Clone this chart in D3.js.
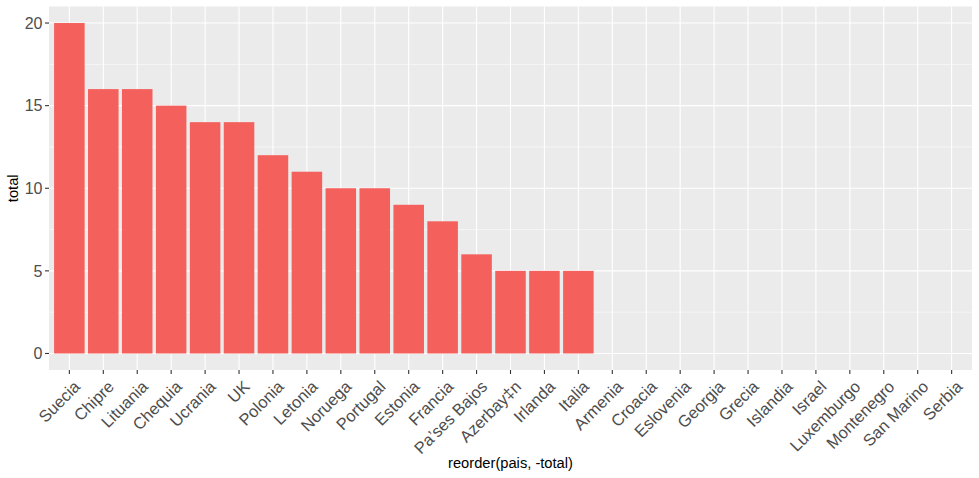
<!DOCTYPE html>
<html><head><meta charset="utf-8">
<script src="https://cdn.jsdelivr.net/npm/d3@7"></script>
<style>body{margin:0;background:#fff}svg{display:block}text{font-family:"Liberation Sans",Arial,Helvetica,sans-serif}</style>
</head><body><svg id="c" width="979" height="478"></svg>
<script>
const paises = ["Suecia","Chipre","Lituania","Chequia","Ucrania","UK","Polonia","Letonia","Noruega","Portugal","Estonia","Francia","Pa’ses Bajos","Azerbay‡n","Irlanda","Italia","Armenia","Croacia","Eslovenia","Georgia","Grecia","Islandia","Israel","Luxemburgo","Montenegro","San Marino","Serbia"];
const totales = [20,16,16,15,14,14,12,11,10,10,9,8,6,5,5,5,0,0,0,0,0,0,0,0,0,0,0];
const yTicks = [0,5,10,15,20];
const yMinor = [2.5,7.5,12.5,17.5];
const xTitle = "reorder(pais, -total)";
const yTitle = "total";

const svg = d3.select("#c");
const L = 49, R = 972, T = 6.5, B = 370;
const y = d3.scaleLinear().domain([-1, 21]).range([B, T]);
// ggplot discrete scale: expansion of 0.6 units each side
const n = paises.length, step = (R - L) / (n + 0.2);
const xc = d3.scalePoint().domain(paises).range([L + 0.6 * step, R - 0.6 * step]);
const bw = 0.9 * step;

svg.append("rect").attr("x", L).attr("y", T).attr("width", R - L).attr("height", B - T).attr("fill", "#EBEBEB");
const g = svg.append("g");
g.selectAll(".ymin").data(yMinor).join("line").attr("x1", L).attr("x2", R)
  .attr("y1", d => y(d)).attr("y2", d => y(d)).attr("stroke", "#fff").attr("stroke-width", 0.55);
g.selectAll(".ymaj").data(yTicks).join("line").attr("x1", L).attr("x2", R)
  .attr("y1", d => y(d)).attr("y2", d => y(d)).attr("stroke", "#fff").attr("stroke-width", 1.1);
g.selectAll(".xmaj").data(paises).join("line").attr("y1", T).attr("y2", B)
  .attr("x1", d => xc(d)).attr("x2", d => xc(d)).attr("stroke", "#fff").attr("stroke-width", 1.1);

svg.append("g").selectAll("rect").data(paises.map((p, i) => ({p, v: totales[i]}))).join("rect")
  .attr("x", d => xc(d.p) - bw / 2).attr("width", bw)
  .attr("y", d => y(Math.max(0, d.v))).attr("height", d => Math.abs(y(0) - y(d.v)))
  .attr("fill", "#F4605C");

// y axis
const ya = svg.append("g");
ya.selectAll("line").data(yTicks).join("line").attr("x1", L - 4).attr("x2", L)
  .attr("y1", d => y(d)).attr("y2", d => y(d)).attr("stroke", "#333").attr("stroke-width", 1.1);
ya.selectAll("text").data(yTicks).join("text").attr("x", L - 6.5).attr("y", d => y(d))
  .attr("dy", "0.36em").attr("text-anchor", "end").attr("fill", "#4D4D4D").attr("font-size", 16).text(d => d);
// x axis
const xa = svg.append("g");
xa.selectAll("line").data(paises).join("line").attr("y1", B).attr("y2", B + 4)
  .attr("x1", d => xc(d)).attr("x2", d => xc(d)).attr("stroke", "#333").attr("stroke-width", 1.1);
xa.selectAll("text").data(paises).join("text")
  .attr("transform", d => `translate(${xc(d) + 3},${B + 9}) rotate(-45)`)
  .attr("text-anchor", "end").attr("dy", "0.75em").attr("fill", "#4D4D4D").attr("font-size", 16.5).text(d => d);

svg.append("text").attr("x", (L + R) / 2).attr("y", 468).attr("text-anchor", "middle")
  .attr("font-size", 14.7).attr("fill", "#000").text(xTitle);
svg.append("text").attr("transform", `translate(18,${(T + B) / 2}) rotate(-90)`).attr("text-anchor", "middle")
  .attr("font-size", 14.7).attr("fill", "#000").text(yTitle);
</script></body></html>
